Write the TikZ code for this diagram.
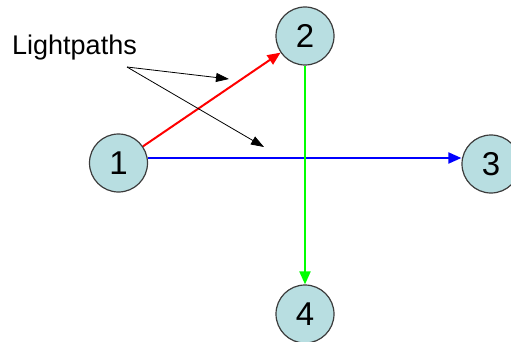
\documentclass[tikz,border=0pt]{standalone}
\usepackage{fontspec}
\setmainfont{Liberation Sans}
\usepackage{tikz}
\usetikzlibrary{arrows.meta}
\pgfdeclarelayer{background}
\pgfdeclarelayer{foreground}
\pgfsetlayers{background,main,foreground}
\definecolor{nodefill}{RGB}{184,222,225}
\definecolor{nodeline}{RGB}{60,60,60}
\tikzset{
  router/.style={circle,draw=nodeline,line width=1.2pt,fill=nodefill,minimum size=58pt,inner sep=0pt,font=\fontsize{33}{35}\selectfont},
  lightpath/.style={line width=2pt,-{Triangle[length=13pt,width=11pt]}},
  pointer/.style={line width=0.8pt,black,-{Triangle[length=13pt,width=9pt]}}
}

\begin{document}
\begin{tikzpicture}[x=1pt,y=-1pt]
\useasboundingbox (0,0) rectangle (511,342);
\begin{pgfonlayer}{foreground}
\node[router] (n1) at (118.5,163) {1};
\node[router] (n2) at (305,36) {2};
\node[router] (n3) at (491,164) {3};
\node[router] (n4) at (305,314) {4};
\end{pgfonlayer}
\node[anchor=base west,inner sep=0pt,font=\fontsize{27}{29}\selectfont] (lbl) at (12,55) {Lightpaths};
\coordinate (tail) at (127,67);
\coordinate (tipa) at (229,79);
\coordinate (tipb) at (264,147);
\begin{pgfonlayer}{background}
\draw[lightpath,red] (n1) -- (n2);
\draw[lightpath,blue] ([yshift=5pt]n1.east) -- ([yshift=6pt]n3.west);
\draw[lightpath,green] (n2.south) -- (n4.north);
\end{pgfonlayer}
\draw[pointer] (tail) -- (tipa);
\draw[pointer] (tail) -- (tipb);
\end{tikzpicture}
\end{document}
